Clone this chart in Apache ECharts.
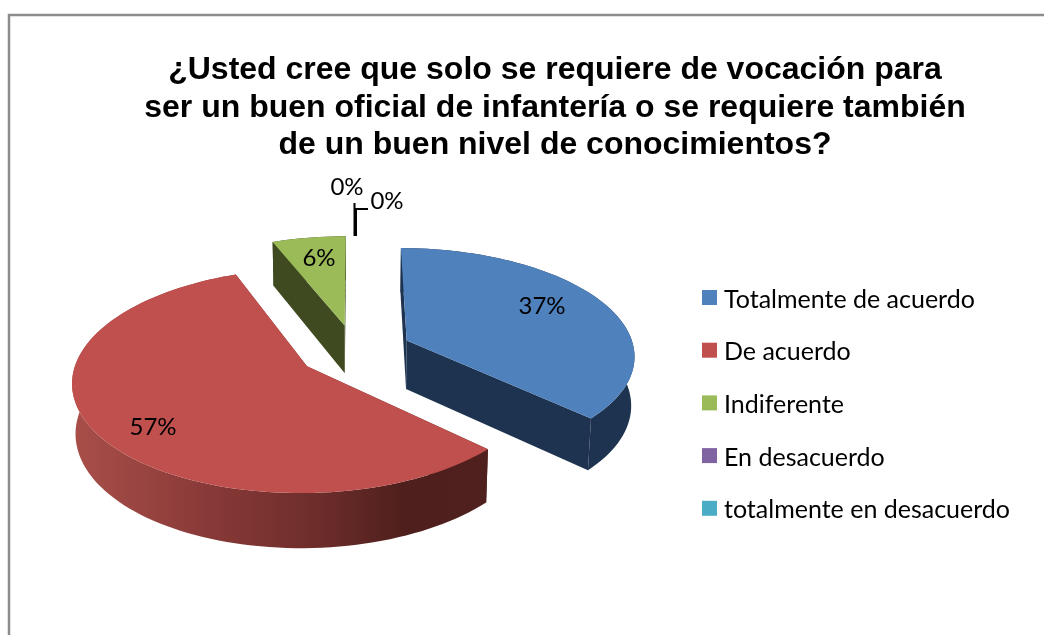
<!DOCTYPE html>
<html>
<head>
<meta charset="utf-8">
<title>Vocación o conocimientos</title>
<style>
  html, body { margin: 0; padding: 0; background: #fff; }
  #chart { width: 1044px; height: 635px; }
</style>
<script src="https://cdn.jsdelivr.net/npm/echarts@6/dist/echarts.min.js"></script>
</head>
<body>
<div id="chart"></div>
<script>
var titleLines = [
  '¿Usted cree que solo se requiere de vocación para',
  'ser un buen oficial de infantería o se requiere también',
  'de un buen nivel de conocimientos?'
];
var categories = ['Totalmente de acuerdo', 'De acuerdo', 'Indiferente', 'En desacuerdo', 'totalmente en desacuerdo'];
var percents = [37, 57, 6, 0, 0];

// colores de cada rebanada: cara, lateral
var topColors = ['#4f81bd', '#c0504d', '#9bbb59', '#8064a2', '#4bacc6'];
var sideColors = ['#1d334f', null, '#3f4a20', '#8064a2', '#4bacc6'];

// donde van los textos de porcentaje y las guias de los 0%
var labelSpots = [[542, 306], [153, 427], [319, 258], [347, 187], [387, 201]];
var leaderLines = {
  3: [[354.5, 203], [354.5, 236]],
  4: [[368, 209], [356, 209], [356, 236]]
};

// proyeccion en perspectiva del pastel 3D
var view = { cx: 355, cy: 351, a: 228, b: 106.6, k: 0.1265, depth: 49.5, shrink: 0.012, explode: 0.25 };

function project(x, y, z) {
  var s = 1 / (1 + view.k * y + view.shrink * z);
  return [view.cx + view.a * x * s, view.cy - view.b * y * s + view.depth * z * s];
}

// angulos de cada rebanada, desde las 12 en sentido horario
var total = percents.reduce(function (sum, v) { return sum + v; }, 0);
var sliceAngles = [];
percents.reduce(function (acc, v) {
  sliceAngles.push([acc / total * Math.PI * 2, (acc + v) / total * Math.PI * 2]);
  return acc + v;
}, 0);

function slicePoints(idx, z) {
  var from = sliceAngles[idx][0], to = sliceAngles[idx][1];
  var mid = (from + to) / 2;
  var ox = Math.sin(mid) * view.explode, oy = Math.cos(mid) * view.explode;
  var arc = [];
  var steps = Math.max(8, Math.round((to - from) * 30));
  for (var i = 0; i <= steps; i++) {
    var t = from + (to - from) * i / steps;
    arc.push(project(ox + Math.sin(t), oy + Math.cos(t), z));
  }
  return { apex: project(ox, oy, z), arc: arc };
}

var redWall = new echarts.graphic.LinearGradient(72, 0, 490, 0, [
  { offset: 0, color: '#a94f4a' },
  { offset: 0.3, color: '#8b3b39' },
  { offset: 0.6, color: '#6b2c2a' },
  { offset: 0.8, color: '#4e1f1c' },
  { offset: 1, color: '#4f201e' }
], true);

function labelEl(idx) {
  return {
    type: 'text',
    x: labelSpots[idx][0],
    y: labelSpots[idx][1],
    style: {
      text: percents[idx] + '%',
      fill: '#000',
      font: '24px Lato',
      align: 'center',
      verticalAlign: 'middle'
    }
  };
}

function renderSlice(params) {
  var idx = params.seriesIndex;
  var children = [];
  if (percents[idx] > 0) {
    var top = slicePoints(idx, 0);
    var bottom = slicePoints(idx, 1);
    var wall = idx === 1 ? redWall : sideColors[idx];
    var n = top.arc.length - 1;
    // paredes radiales, luego la pared curva, luego la cara
    children.push({ type: 'polygon', shape: { points: [top.apex, top.arc[0], bottom.arc[0], bottom.apex] }, style: { fill: wall } });
    children.push({ type: 'polygon', shape: { points: [top.apex, top.arc[n], bottom.arc[n], bottom.apex] }, style: { fill: wall } });
    children.push({ type: 'polygon', shape: { points: top.arc.concat(bottom.arc.slice().reverse()) }, style: { fill: wall } });
    children.push({ type: 'polygon', shape: { points: [top.apex].concat(top.arc) }, style: { fill: topColors[idx] } });
  } else {
    children.push({ type: 'polyline', shape: { points: leaderLines[idx] }, style: { stroke: '#000', lineWidth: 2, fill: null } });
  }
  children.push(labelEl(idx));
  return { type: 'group', children: children };
}

var chart = echarts.init(document.getElementById('chart'), null, { renderer: 'canvas' });
chart.setOption({
  animation: false,
  backgroundColor: '#fff',
  title: {
    text: titleLines.join('\n'),
    left: 550,
    top: 46.5,
    textAlign: 'center',
    textStyle: {
      fontFamily: 'Liberation Sans',
      fontWeight: 'bold',
      fontSize: 32,
      lineHeight: 37.5,
      color: '#000'
    }
  },
  legend: {
    orient: 'vertical',
    left: 697,
    top: 282,
    icon: 'rect',
    itemWidth: 15,
    itemHeight: 15,
    itemGap: 27.7,
    selectedMode: false,
    data: categories,
    formatter: '{a|{name}}',
    textStyle: {
      rich: {
        a: {
          fontFamily: 'Lato',
          fontSize: 25,
          color: '#000',
          padding: [4, 0, 0, 2]
        }
      }
    }
  },
  graphic: [{
    type: 'rect',
    shape: { x: 9, y: 15, width: 1100, height: 700 },
    style: { fill: null, stroke: '#8c8c8c', lineWidth: 2.5 },
    silent: true
  }],
  series: categories.map(function (name, i) {
    return {
      type: 'custom',
      name: name,
      coordinateSystem: 'none',
      itemStyle: { color: topColors[i] },
      data: [[percents[i]]],
      renderItem: renderSlice
    };
  })
});
</script>
</body>
</html>
